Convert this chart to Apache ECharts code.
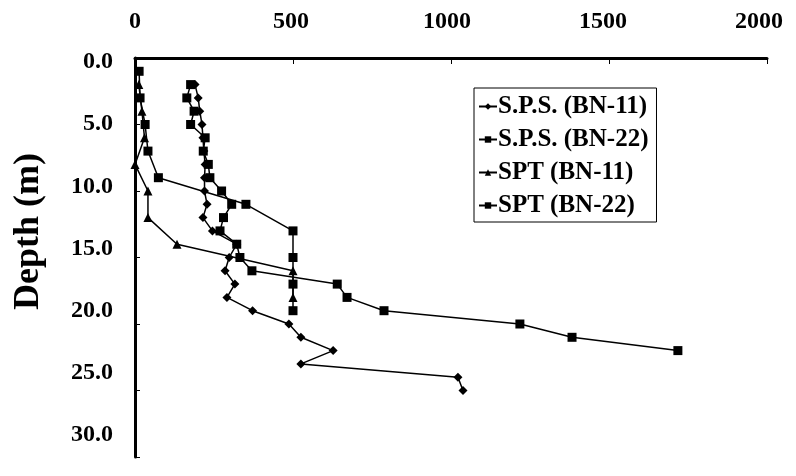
<!DOCTYPE html>
<html>
<head>
<meta charset="utf-8">
<script src="https://cdn.jsdelivr.net/npm/echarts@6/dist/echarts.min.js"></script>
<style>
  html, body { margin: 0; padding: 0; background: #fff; }
  #chart { width: 796px; height: 476px; }
</style>
</head>
<body>
<div id="chart"></div>
<script>
const xTicks = [0, 500, 1000, 1500, 2000];
const depthTicks = [0, 5, 10, 15, 20, 25, 30];

// S.P.S. (BN-11), diamonds
const spsBn11Depth = [2, 3, 4, 5, 6, 7, 8, 9, 10, 11, 12, 13, 14, 15, 16, 17, 18, 19, 20, 21, 22, 23, 24, 25];
const spsBn11Value = [190, 200, 205, 212, 215, 218, 222, 220, 220, 228, 215, 245, 322, 298, 285, 316, 291, 372, 487, 525, 627, 525, 1022, 1038];

// S.P.S. (BN-22), squares
const spsBn22Depth = [2, 3, 4, 5, 6, 7, 8, 9, 10, 11, 12, 13, 14, 15, 16, 17, 18, 19, 20, 21, 22];
const spsBn22Value = [176, 164, 187, 176, 222, 216, 232, 237, 274, 306, 280, 269, 322, 332, 370, 640, 671, 788, 1218, 1383, 1718];

// SPT (BN-11), triangles
const sptBn11Depth = [2, 4, 6, 8, 10, 12, 14, 16, 18];
const sptBn11Value = [12, 22, 30, 0, 41, 41, 133, 500, 500];

// SPT (BN-22), squares
const sptBn22Depth = [1, 3, 5, 7, 9, 11, 13, 15, 17, 19];
const sptBn22Value = [13, 16, 32, 41, 74, 351, 500, 500, 500, 500];

const zip = (vals, depths) => vals.map((v, i) => [v, depths[i]]);

const FONT = 'Liberation Serif';
const labelFont = { fontFamily: FONT, fontWeight: 'bold', fontSize: 24, color: '#000' };
const lineBase = {
  type: 'line',
  xAxisIndex: 0,
  yAxisIndex: 0,
  color: '#000',
  lineStyle: { color: '#000', width: 1.5 },
  itemStyle: { color: '#000' },
  emphasis: { disabled: true },
  animation: false
};

const chart = echarts.init(document.getElementById('chart'));
chart.setOption({
  backgroundColor: '#fff',
  animation: false,
  grid: [
    { left: 135, top: 58, width: 632, height: 399, outerBoundsMode: 'none', containLabel: false },
    // printed tick labels sit on a slightly tighter scale than the tick marks
    { left: 135, top: 62, width: 624, height: 373, outerBoundsMode: 'none', containLabel: false }
  ],
  legend: {
    orient: 'vertical',
    left: 474,
    top: 88,
    padding: [6, 8, 4, 4],
    itemGap: 8,
    itemWidth: 18,
    itemHeight: 8,
    borderColor: '#000',
    borderWidth: 1,
    backgroundColor: '#fff',
    textStyle: { fontFamily: FONT, fontWeight: 'bold', fontSize: 25, color: '#000', padding: [0, 0, 0, -4] },
    data: ['S.P.S. (BN-11)', 'S.P.S. (BN-22)', 'SPT (BN-11)', 'SPT (BN-22)']
  },
  xAxis: [
    {
      type: 'value',
      show: true,
      gridIndex: 0,
      position: 'top',
      min: xTicks[0],
      max: xTicks[xTicks.length - 1],
      interval: 500,
      z: 10,
      axisLine: { show: true, onZero: false, lineStyle: { color: '#000', width: 3 } },
      axisTick: { show: true, inside: true, length: 6, lineStyle: { color: '#000', width: 1 } },
      axisLabel: { show: false },
      splitLine: { show: false }
    },
    {
      type: 'value',
      gridIndex: 1,
      position: 'top',
      min: xTicks[0],
      max: xTicks[xTicks.length - 1],
      interval: 500,
      axisLine: { show: false },
      axisTick: { show: false },
      axisLabel: Object.assign({ margin: 28, formatter: v => String(v) }, labelFont),
      splitLine: { show: false }
    }
  ],
  yAxis: [
    {
      type: 'value',
      gridIndex: 0,
      inverse: true,
      min: depthTicks[0],
      max: depthTicks[depthTicks.length - 1],
      interval: 5,
      name: 'Depth (m)',
      nameLocation: 'middle',
      nameRotate: 90,
      nameGap: 88,
      nameTextStyle: { fontFamily: FONT, fontWeight: 'bold', fontSize: 36, color: '#000', padding: [0, 0, 0, 52] },
      axisLine: { show: true, onZero: false, lineStyle: { color: '#000', width: 3 } },
      axisTick: { show: true, inside: true, length: 5, lineStyle: { color: '#000', width: 1 } },
      axisLabel: { show: false },
      splitLine: { show: false }
    },
    {
      type: 'value',
      gridIndex: 1,
      inverse: true,
      min: depthTicks[0],
      max: depthTicks[depthTicks.length - 1],
      interval: 5,
      axisLine: { show: false },
      axisTick: { show: false },
      axisLabel: Object.assign({ margin: 22, formatter: v => v.toFixed(1) }, labelFont),
      splitLine: { show: false }
    }
  ],
  series: [
    Object.assign({}, lineBase, {
      name: 'S.P.S. (BN-11)', symbol: 'diamond', symbolSize: 9,
      data: zip(spsBn11Value, spsBn11Depth),
      // top frame line at depth 0
      markLine: {
        silent: true,
        symbol: 'none',
        label: { show: false },
        lineStyle: { color: '#000', width: 3, type: 'solid' },
        data: [{ yAxis: depthTicks[0] }]
      }
    }),
    Object.assign({}, lineBase, {
      name: 'S.P.S. (BN-22)', symbol: 'rect', symbolSize: 9,
      data: zip(spsBn22Value, spsBn22Depth)
    }),
    Object.assign({}, lineBase, {
      name: 'SPT (BN-11)', symbol: 'triangle', symbolSize: 9,
      data: zip(sptBn11Value, sptBn11Depth)
    }),
    Object.assign({}, lineBase, {
      name: 'SPT (BN-22)', symbol: 'rect', symbolSize: 9,
      data: zip(sptBn22Value, sptBn22Depth)
    })
  ]
});
</script>
</body>
</html>
